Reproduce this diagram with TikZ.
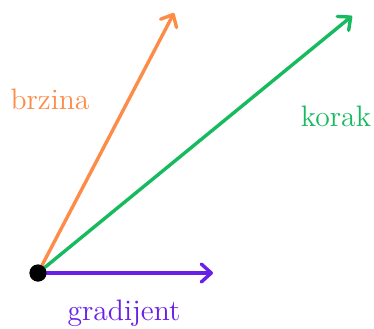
\documentclass[tikz,border=0pt]{standalone}
\usepackage{tikz}
\usetikzlibrary{arrows.meta}
\definecolor{brzinaC}{RGB}{252,140,72}
\definecolor{korakC}{RGB}{24,186,96}
\definecolor{gradC}{RGB}{104,32,232}

\begin{document}
\begin{tikzpicture}[
    x=0.5pt, y=0.5pt,
    vec/.style={-{Straight Barb[length=5pt, width=9pt, line cap=round, round]}, line width=1.7pt, line cap=round},
    lbl/.style={font=\fontsize{14.8}{17}\selectfont, inner sep=0pt}
]
\useasboundingbox (0,0) rectangle (374,328);

% Point and vector tips
\node[circle, fill=black, minimum size=8.5pt, inner sep=0pt] (o) at (38,55) {};
\coordinate (bTip) at (174,315);
\coordinate (kTip) at (352,312);
\coordinate (gTip) at (213,55);

% Vectors
\draw[vec, brzinaC] (o.center) -- (bTip);
\draw[vec, korakC] (o.center) -- (kTip);
\draw[vec, gradC] (o.center) -- (gTip);
\node[circle, fill=black, minimum size=8.5pt, inner sep=0pt] at (o) {};

% Labels
\node[lbl, text=brzinaC] (brzina) at (50,229) {brzina};
\node[lbl, text=korakC] (korak) at (336,212) {korak};
\node[lbl, text=gradC] (gradijent) at (124,15) {gradijent};

\end{tikzpicture}
\end{document}
